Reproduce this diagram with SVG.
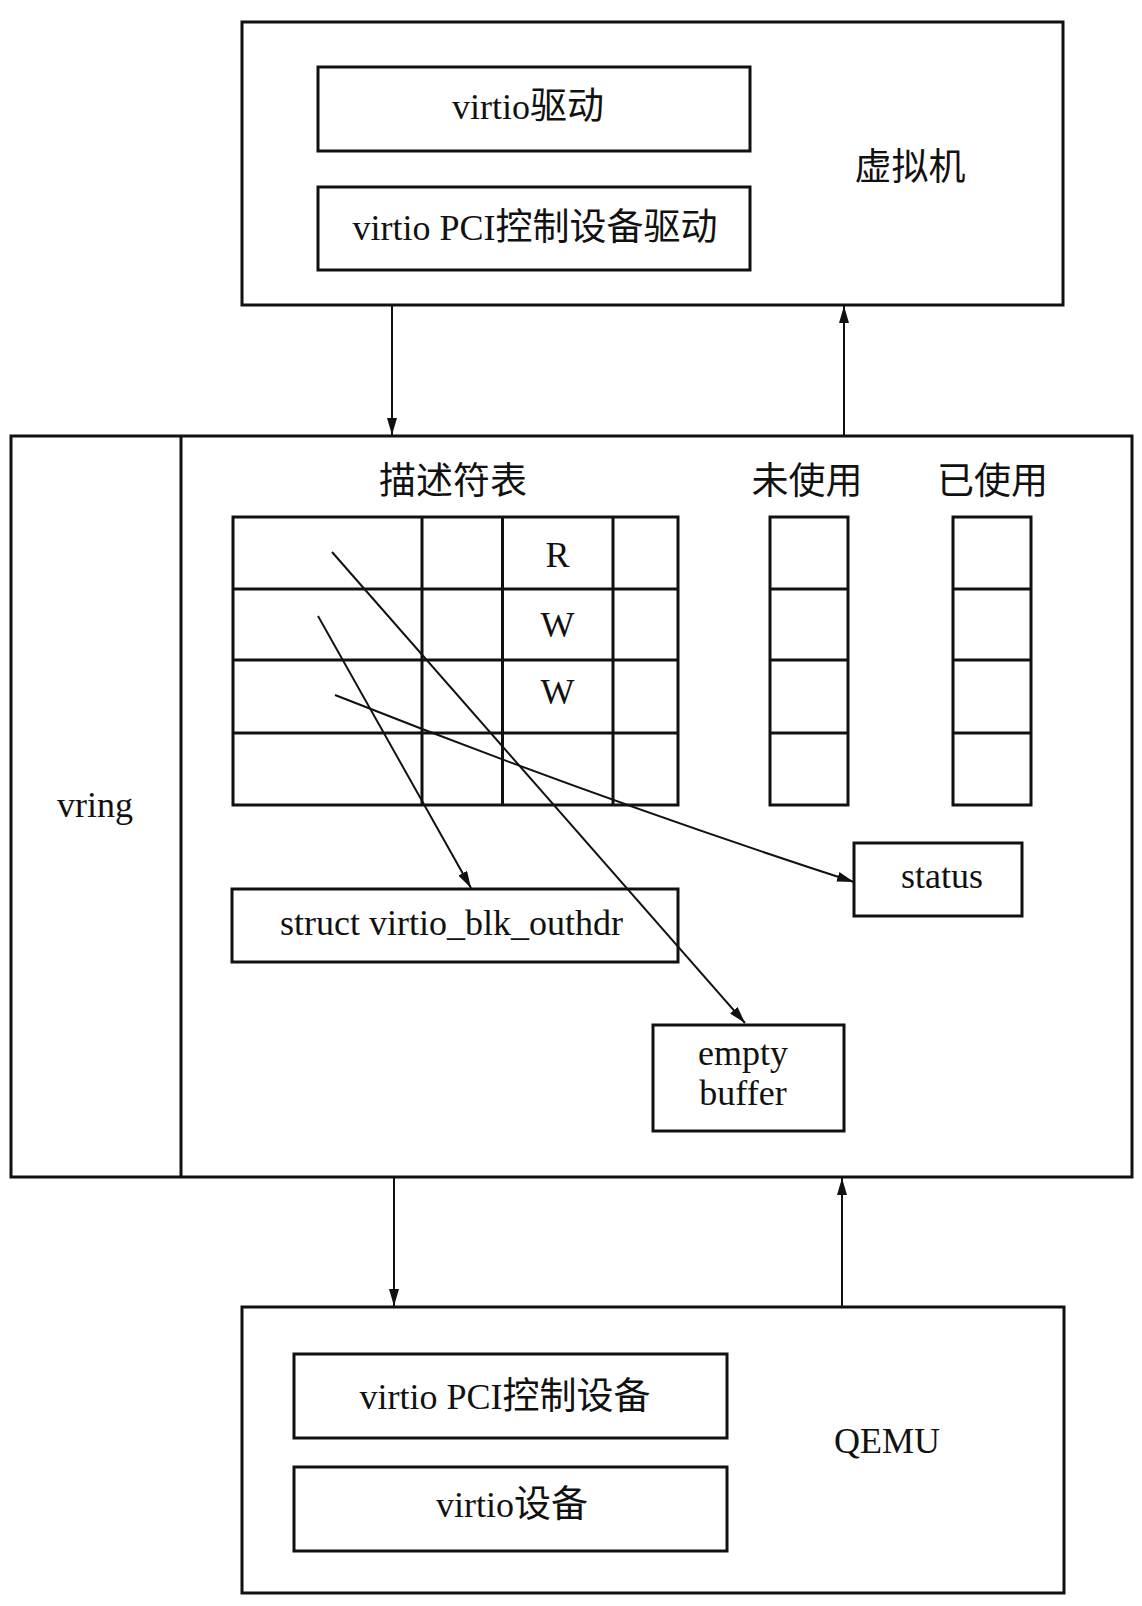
<svg xmlns="http://www.w3.org/2000/svg" width="1142" height="1606" viewBox="0 0 1142 1606">
<style>
  .box { fill: none; stroke: #111; stroke-width: 3; }
  .grid { fill: none; stroke: #111; stroke-width: 3; }
  .ln { fill: none; stroke: #111; stroke-width: 2; }
  .t { font-family: "Liberation Serif", "Noto Sans CJK SC", serif; font-size: 36px; fill: #111; text-anchor: middle; }
  .c { font-size: 37px; }
</style>
<defs>
  <marker id="ah" markerUnits="userSpaceOnUse" markerWidth="18" markerHeight="10" refX="17" refY="5" orient="auto">
    <path d="M0,0 L17,5 L0,10 Z" fill="#111"/>
  </marker>
</defs>
<rect width="1142" height="1606" fill="#fff"/>

<g id="vm">
  <rect class="box" x="242" y="22" width="821" height="283"/>
  <text class="t c" x="910" y="180">虚拟机</text>
</g>
<g id="virtio-driver">
  <rect class="box" x="318" y="67" width="432" height="84"/>
  <text class="t" x="528" y="119">virtio<tspan class="c">驱动</tspan></text>
</g>
<g id="virtio-pci-driver">
  <rect class="box" x="318" y="187" width="432" height="83"/>
  <text class="t" x="535" y="240">virtio PCI<tspan class="c">控制设备驱动</tspan></text>
</g>

<g id="vring">
  <rect class="box" x="11" y="436" width="1121" height="741"/>
  <line class="box" x1="181" y1="436" x2="181" y2="1177"/>
  <text class="t" x="95" y="817">vring</text>
</g>

<g id="desc-table">
  <text class="t c" x="453" y="494">描述符表</text>
  <rect class="grid" x="233" y="517" width="445" height="288"/>
  <line class="grid" x1="422" y1="517" x2="422" y2="805"/>
  <line class="grid" x1="502.5" y1="517" x2="502.5" y2="805"/>
  <line class="grid" x1="613" y1="517" x2="613" y2="805"/>
  <line class="grid" x1="233" y1="589" x2="678" y2="589"/>
  <line class="grid" x1="233" y1="660" x2="678" y2="660"/>
  <line class="grid" x1="233" y1="733" x2="678" y2="733"/>
  <text class="t" x="557.5" y="567">R</text>
  <text class="t" x="557.5" y="637">W</text>
  <text class="t" x="557.5" y="704">W</text>
</g>

<g id="avail">
  <text class="t c" x="807" y="494">未使用</text>
  <rect class="grid" x="770" y="517" width="78" height="288"/>
  <line class="grid" x1="770" y1="589" x2="848" y2="589"/>
  <line class="grid" x1="770" y1="660" x2="848" y2="660"/>
  <line class="grid" x1="770" y1="733" x2="848" y2="733"/>
</g>

<g id="used">
  <text class="t c" x="992.5" y="494">已使用</text>
  <rect class="grid" x="953" y="517" width="78" height="288"/>
  <line class="grid" x1="953" y1="589" x2="1031" y2="589"/>
  <line class="grid" x1="953" y1="660" x2="1031" y2="660"/>
  <line class="grid" x1="953" y1="733" x2="1031" y2="733"/>
</g>

<g id="outhdr">
  <rect class="box" x="232" y="889" width="446" height="73"/>
  <text class="t" x="451.5" y="935">struct virtio_blk_outhdr</text>
</g>

<g id="status">
  <rect class="box" x="854" y="843" width="168" height="73"/>
  <text class="t" x="942" y="888">status</text>
</g>

<g id="empty-buffer">
  <rect class="box" x="653" y="1025" width="191" height="106"/>
  <text class="t" x="743" y="1065">empty</text>
  <text class="t" x="743" y="1105">buffer</text>
</g>

<g id="qemu">
  <rect class="box" x="242" y="1307" width="822" height="286"/>
  <text class="t" x="887" y="1453">QEMU</text>
</g>
<g id="virtio-pci-dev">
  <rect class="box" x="294" y="1354" width="433" height="84"/>
  <text class="t" x="505" y="1409">virtio PCI<tspan class="c">控制设备</tspan></text>
</g>
<g id="virtio-dev">
  <rect class="box" x="294" y="1467" width="433" height="84"/>
  <text class="t" x="512" y="1517">virtio<tspan class="c">设备</tspan></text>
</g>

<g id="connectors">
  <line class="ln" x1="392" y1="305" x2="392" y2="435" marker-end="url(#ah)"/>
  <line class="ln" x1="844" y1="435" x2="844" y2="306" marker-end="url(#ah)"/>
  <line class="ln" x1="394" y1="1177" x2="394" y2="1306" marker-end="url(#ah)"/>
  <line class="ln" x1="842" y1="1307" x2="842" y2="1178" marker-end="url(#ah)"/>
  <line class="ln" x1="332" y1="552" x2="745" y2="1023" marker-end="url(#ah)"/>
  <line class="ln" x1="318" y1="616" x2="471" y2="888" marker-end="url(#ah)"/>
  <path class="ln" d="M335,695 Q595,798 854,882" marker-end="url(#ah)"/>
</g>
</svg>
